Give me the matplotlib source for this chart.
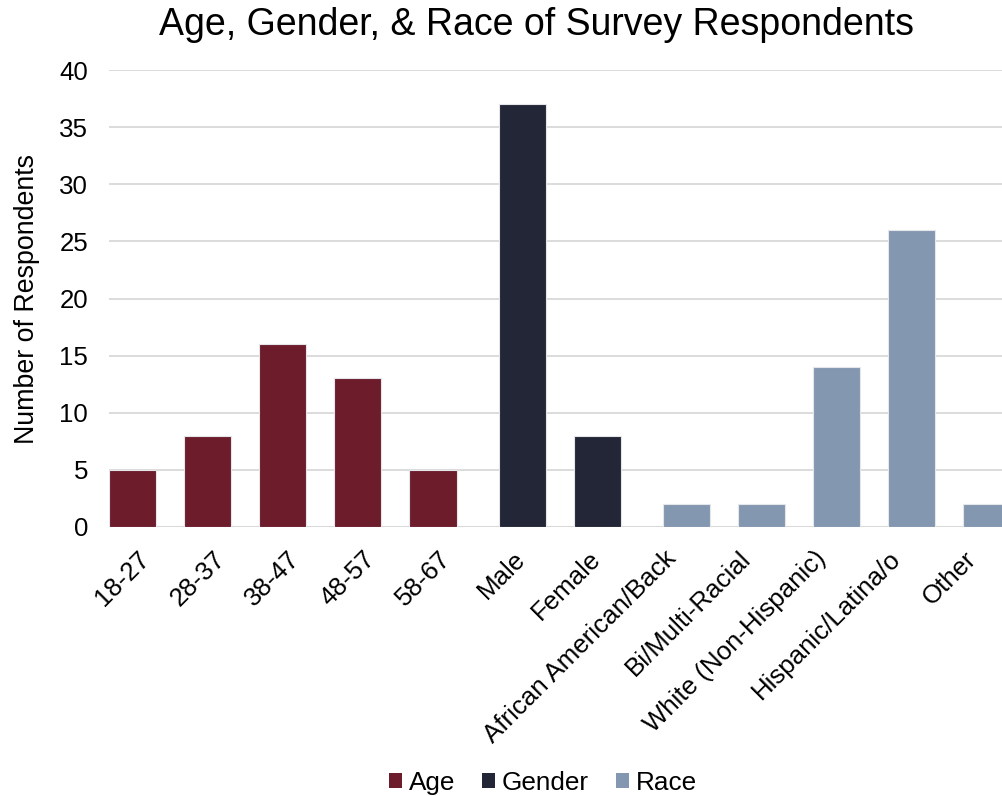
import matplotlib
matplotlib.use("Agg")
import matplotlib.pyplot as plt
from matplotlib.patches import Patch
from matplotlib.transforms import ScaledTranslation

# Survey data
age_labels = ["18-27", "28-37", "38-47", "48-57", "58-67"]
age_counts = [5, 8, 16, 13, 5]
gender_labels = ["Male", "Female"]
gender_counts = [37, 8]
race_labels = ["African American/Back", "Bi/Multi-Racial", "White (Non-Hispanic)",
               "Hispanic/Latina/o", "Other"]
race_counts = [2, 2, 14, 26, 2]

groups = [
    ("Age", age_labels, age_counts, "#6D1C2C"),
    ("Gender", gender_labels, gender_counts, "#222636"),
    ("Race", race_labels, race_counts, "#8497B0"),
]

plt.rcParams["font.family"] = ["Liberation Sans", "DejaVu Sans"]

W, H = 1003, 796
fig = plt.figure(figsize=(W / 100, H / 100), dpi=100)
# axes runs slightly past the right edge of the canvas, so the last bar is clipped
ax = fig.add_axes([109 / W, 1 - 527 / H, (1010.5 - 109) / W, (527 - 70) / H])

bar_w = 0.627
series_shift = 0.187   # clustered-series offset within each category slot
tick_labels = []
idx = 0
for g, (name, labels, counts, color) in enumerate(groups):
    xs = [idx + i + (g - 1) * series_shift for i in range(len(labels))]
    ax.bar(xs, counts, width=bar_w, color=color, edgecolor="#E4E6EA",
           linewidth=0.8, zorder=3, label=name)
    tick_labels += labels
    idx += len(labels)

ax.set_xlim(-0.5, len(tick_labels) - 0.5)
ax.set_ylim(0, 40)
ax.set_yticks(range(0, 41, 5))
ax.grid(axis="y", color="#D9D9D9", linewidth=1.3, zorder=0)
ax.set_axisbelow(True)
for s in ax.spines.values():
    s.set_visible(False)
ax.axhline(0, color="#D9D9D9", linewidth=1.5, zorder=2)

ax.set_xticks(range(len(tick_labels)))
ax.set_xticklabels(tick_labels, rotation=45, ha="right", va="top",
                   fontsize=18.6, color="#000000")
ax.tick_params(axis="x", length=0, pad=12)
shift = ScaledTranslation(8 / 100, -3 / 100, fig.dpi_scale_trans)
for lbl in ax.get_xticklabels():
    lbl.set_transform(lbl.get_transform() + shift)
ax.tick_params(axis="y", length=0, pad=15, labelsize=18.6, labelcolor="#000000")

ax.set_ylabel("Number of Respondents", fontsize=19.3, labelpad=14)
fig.text(537 / W, 1 - 25 / H, "Age, Gender, & Race of Survey Respondents",
         ha="center", va="center", fontsize=27)

handles = [Patch(facecolor=c, label=n) for n, _, _, c in groups]
fig.legend(handles=handles, loc="center", bbox_to_anchor=(543 / W, 1 - 783 / H),
           ncol=3, frameon=False, fontsize=18.8, handlelength=0.5, handleheight=0.5,
           handletextpad=0.25, columnspacing=1.05, borderaxespad=0, borderpad=0)

fig.savefig("out.png", dpi=100)
